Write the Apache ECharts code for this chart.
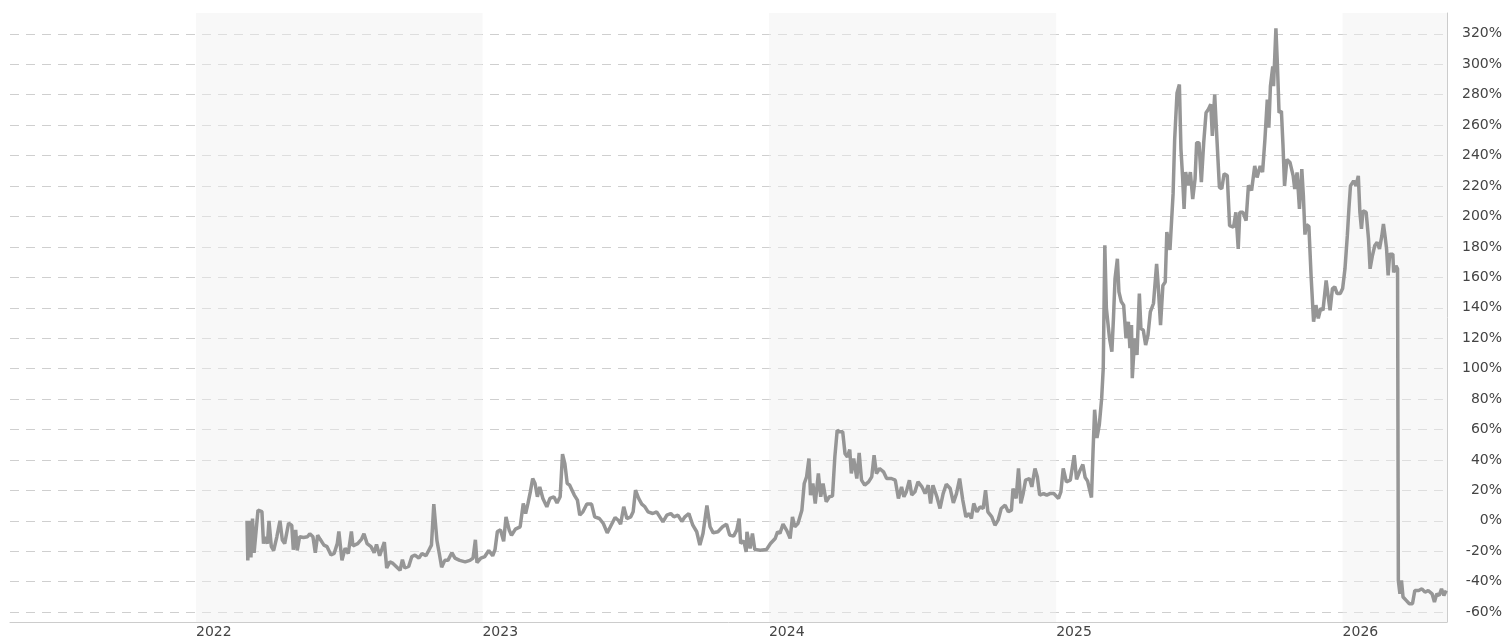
<!DOCTYPE html>
<html>
<head>
<meta charset="utf-8">
<title>Performance</title>
<script src="https://cdn.jsdelivr.net/npm/echarts@6/dist/echarts.min.js"></script>
<style>
  html, body { margin: 0; padding: 0; background: #fff; }
  #chart { width: 1507px; height: 639px; }
</style>
</head>
<body>
<div id="chart"></div>
<script>
  // percentage change
  const pts2022 = [
    ['2022-03-07', 0], ['2022-03-08', -26], ['2022-03-10', 0], ['2022-03-12', -24], ['2022-03-14', 1.5], ['2022-03-16', -21], ['2022-03-21', 7], ['2022-03-26', 6], ['2022-03-28', -15], ['2022-03-30', -10.5],
    ['2022-04-02', -15], ['2022-04-04', 0], ['2022-04-07', -17], ['2022-04-10', -19.5], ['2022-04-14', -10.5], ['2022-04-18', 0], ['2022-04-21', -12.7], ['2022-04-24', -15], ['2022-04-29', -1.5],
    ['2022-05-03', -3], ['2022-05-05', -19], ['2022-05-08', -6], ['2022-05-10', -19.5], ['2022-05-13', -10.5], ['2022-05-18', -11], ['2022-05-23', -10.5], ['2022-05-26', -8.5], ['2022-05-30', -10.5],
    ['2022-06-02', -21], ['2022-06-05', -9.5], ['2022-06-08', -12], ['2022-06-13', -16], ['2022-06-17', -17], ['2022-06-22', -22.5], ['2022-06-26', -21.5], ['2022-06-30', -15],
    ['2022-07-02', -7], ['2022-07-06', -26], ['2022-07-10', -18], ['2022-07-14', -21.5], ['2022-07-18', -7], ['2022-07-20', -16.5], ['2022-07-26', -15], ['2022-07-31', -12],
    ['2022-08-03', -8.5], ['2022-08-07', -15], ['2022-08-12', -17], ['2022-08-16', -21], ['2022-08-19', -15.5], ['2022-08-23', -23], ['2022-08-29', -14],
    ['2022-09-01', -31], ['2022-09-05', -27], ['2022-09-09', -28], ['2022-09-14', -30.5], ['2022-09-18', -32.5], ['2022-09-21', -25.5], ['2022-09-24', -31], ['2022-09-29', -30],
    ['2022-10-03', -23.5], ['2022-10-07', -22.5], ['2022-10-12', -24.5], ['2022-10-16', -21.5], ['2022-10-21', -23], ['2022-10-25', -19], ['2022-10-28', -16], ['2022-10-31', 11],
    ['2022-11-04', -13], ['2022-11-07', -21.5], ['2022-11-10', -30.5], ['2022-11-14', -26], ['2022-11-18', -26], ['2022-11-23', -21], ['2022-11-27', -24.5],
    ['2022-12-03', -26], ['2022-12-10', -27], ['2022-12-16', -26], ['2022-12-20', -24.5], ['2022-12-23', -12.5], ['2022-12-25', -27.5], ['2022-12-30', -24.5]
  ]
  const pts2023 = [
    ['2023-01-04', -23.5], ['2023-01-09', -19.5], ['2023-01-14', -23], ['2023-01-17', -19], ['2023-01-20', -7], ['2023-01-24', -6], ['2023-01-28', -13.5], ['2023-01-31', 2.5],
    ['2023-02-04', -6], ['2023-02-07', -9.5], ['2023-02-12', -5.5], ['2023-02-18', -4], ['2023-02-22', 11.4], ['2023-02-25', 4.8], ['2023-02-28', 11.4],
    ['2023-03-03', 19], ['2023-03-06', 27.8], ['2023-03-09', 24.5], ['2023-03-12', 15.8], ['2023-03-15', 22.3], ['2023-03-19', 14.7], ['2023-03-24', 9.2], ['2023-03-28', 14.7],
    ['2023-04-02', 15.8], ['2023-04-06', 11.8], ['2023-04-10', 15.8], ['2023-04-13', 43.8], ['2023-04-16', 37.6], ['2023-04-19', 24.5], ['2023-04-22', 23.6], ['2023-04-28', 16.9],
    ['2023-05-02', 13.6], ['2023-05-05', 3.7], ['2023-05-09', 5.9], ['2023-05-14', 11], ['2023-05-20', 11], ['2023-05-24', 2.6], ['2023-05-30', 1.5],
    ['2023-06-04', -1.8], ['2023-06-09', -7.9], ['2023-06-13', -3.9], ['2023-06-19', 2.2], ['2023-06-23', 0.4], ['2023-06-26', -2.2], ['2023-06-30', 9.2],
    ['2023-07-04', 1.5], ['2023-07-09', 2.6], ['2023-07-12', 5.9], ['2023-07-15', 20.1], ['2023-07-19', 14.7], ['2023-07-23', 11], ['2023-07-27', 9.2], ['2023-07-31', 5.9],
    ['2023-08-06', 4.8], ['2023-08-11', 5.9], ['2023-08-15', 2.6], ['2023-08-19', -0.7], ['2023-08-24', 3.7], ['2023-08-29', 4.8],
    ['2023-09-02', 2.6], ['2023-09-07', 3.7], ['2023-09-12', -0.4], ['2023-09-16', 2.6], ['2023-09-21', 4.8], ['2023-09-26', -2.9],
    ['2023-10-01', -7.2], ['2023-10-05', -16], ['2023-10-09', -8.3], ['2023-10-14', 10.1], ['2023-10-18', -3.9], ['2023-10-22', -7.9], ['2023-10-28', -7.2],
    ['2023-11-03', -3.9], ['2023-11-08', -2.2], ['2023-11-12', -9.4], ['2023-11-17', -10.1], ['2023-11-21', -6.1], ['2023-11-24', 1.5], ['2023-11-26', -14.9], ['2023-11-30', -13.1],
    ['2023-12-03', -20.4], ['2023-12-04', -7.2], ['2023-12-08', -18.2], ['2023-12-11', -8.3], ['2023-12-14', -18.8], ['2023-12-21', -19.3], ['2023-12-29', -18.8]
  ]
  const pts2024 = [
    ['2024-01-03', -14.9], ['2024-01-09', -11.6], ['2024-01-12', -7.2], ['2024-01-15', -8.3], ['2024-01-19', -2.2], ['2024-01-24', -6.6], ['2024-01-28', -11.6], ['2024-01-31', 2.6],
    ['2024-02-03', -3.9], ['2024-02-07', -1.8], ['2024-02-12', 7], ['2024-02-15', 24.5], ['2024-02-18', 28.9], ['2024-02-21', 40.9], ['2024-02-23', 16.9], ['2024-02-26', 24.5], ['2024-02-29', 11.4],
    ['2024-03-04', 31.1], ['2024-03-07', 15.8], ['2024-03-10', 24.5], ['2024-03-14', 12.5], ['2024-03-18', 15.8], ['2024-03-22', 16.2], ['2024-03-25', 42], ['2024-03-28', 59.6], ['2024-03-31', 58.5],
    ['2024-04-04', 58.5], ['2024-04-07', 44.1], ['2024-04-10', 42], ['2024-04-13', 46.8], ['2024-04-15', 31.1], ['2024-04-18', 40.9], ['2024-04-22', 27.8], ['2024-04-25', 44.6], ['2024-04-28', 26.7],
    ['2024-05-02', 23.4], ['2024-05-07', 25.6], ['2024-05-11', 28.9], ['2024-05-14', 43.1], ['2024-05-17', 31.1], ['2024-05-21', 34.4], ['2024-05-26', 32.2], ['2024-05-30', 27.8],
    ['2024-06-05', 27.8], ['2024-06-10', 26.7], ['2024-06-14', 14.7], ['2024-06-18', 22.3], ['2024-06-21', 15.8], ['2024-06-24', 19], ['2024-06-28', 26.7],
    ['2024-07-01', 16.9], ['2024-07-05', 19], ['2024-07-09', 25.6], ['2024-07-14', 22.3], ['2024-07-18', 17.9], ['2024-07-22', 23.4], ['2024-07-25', 11.4], ['2024-07-28', 23.4],
    ['2024-08-02', 15.8], ['2024-08-06', 8.1], ['2024-08-10', 17.9], ['2024-08-14', 24], ['2024-08-19', 21.2], ['2024-08-23', 11.8], ['2024-08-27', 17.9], ['2024-08-31', 27.8],
    ['2024-09-04', 13.6], ['2024-09-08', 2.6], ['2024-09-12', 4.8], ['2024-09-15', 1.5], ['2024-09-18', 11.4], ['2024-09-22', 5.9], ['2024-09-26', 9.2], ['2024-09-30', 8.1],
    ['2024-10-03', 20.1], ['2024-10-06', 5.9], ['2024-10-11', 2.6], ['2024-10-15', -2.9], ['2024-10-19', 0.4], ['2024-10-23', 8.1], ['2024-10-28', 10.3],
    ['2024-11-01', 5.9], ['2024-11-05', 7], ['2024-11-07', 21.2], ['2024-11-11', 14.7], ['2024-11-14', 34.4], ['2024-11-17', 11.4], ['2024-11-20', 17.9], ['2024-11-23', 26.7], ['2024-11-28', 27.8],
    ['2024-12-01', 22.3], ['2024-12-05', 34.4], ['2024-12-08', 28.9], ['2024-12-11', 16.9], ['2024-12-16', 17.9], ['2024-12-20', 16.9], ['2024-12-24', 17.9], ['2024-12-29', 17.9]
  ]
  const pts2025 = [
    ['2025-01-04', 14.7], ['2025-01-07', 19], ['2025-01-10', 34.4], ['2025-01-14', 25.6], ['2025-01-19', 26.7], ['2025-01-24', 43.1], ['2025-01-27', 27.3], ['2025-01-31', 32.7],
    ['2025-02-04', 37], ['2025-02-07', 28.4], ['2025-02-10', 26.2], ['2025-02-13', 19.6], ['2025-02-15', 15.3], ['2025-02-17', 45.8], ['2025-02-19', 73], ['2025-02-22', 54.5], ['2025-02-25', 63.2], ['2025-02-28', 80.6],
    ['2025-03-02', 100.3], ['2025-03-04', 181], ['2025-03-06', 139.5], ['2025-03-10', 119.9], ['2025-03-13', 111.2], ['2025-03-15', 133], ['2025-03-17', 159.1], ['2025-03-20', 172.2], ['2025-03-22', 150.4], ['2025-03-25', 143.9], ['2025-03-28', 141.7], ['2025-03-31', 119.9],
    ['2025-04-03', 130.8], ['2025-04-05', 113.4], ['2025-04-07', 128.6], ['2025-04-08', 93.7], ['2025-04-11', 119.9], ['2025-04-14', 109], ['2025-04-17', 149.3], ['2025-04-19', 126.4], ['2025-04-22', 125.3], ['2025-04-25', 115.5], ['2025-04-28', 122.1],
    ['2025-05-01', 137.3], ['2025-05-05', 142.8], ['2025-05-09', 168.9], ['2025-05-11', 154.7], ['2025-05-14', 128.6], ['2025-05-17', 154.7], ['2025-05-20', 156.9], ['2025-05-22', 189.7], ['2025-05-26', 178], ['2025-05-30', 215],
    ['2025-06-01', 250.7], ['2025-06-04', 281.2], ['2025-06-07', 286.7], ['2025-06-09', 244.3], ['2025-06-11', 226.9], ['2025-06-13', 204.9], ['2025-06-15', 229.1], ['2025-06-18', 220.4], ['2025-06-21', 229.1], ['2025-06-24', 211.4], ['2025-06-27', 224.7], ['2025-06-29', 248.5],
    ['2025-07-02', 248.5], ['2025-07-05', 222.5], ['2025-07-08', 248.5], ['2025-07-11', 268.2], ['2025-07-14', 270.4], ['2025-07-17', 273.7], ['2025-07-19', 252.9], ['2025-07-22', 280.1], ['2025-07-24', 259.4], ['2025-07-28', 219.2], ['2025-07-31', 218.2],
    ['2025-08-03', 228], ['2025-08-07', 226.9], ['2025-08-10', 194], ['2025-08-15', 192.9], ['2025-08-18', 202.7], ['2025-08-21', 178.7], ['2025-08-23', 202.7], ['2025-08-27', 202.7], ['2025-08-31', 197.3],
    ['2025-09-03', 220.4], ['2025-09-07', 217.1], ['2025-09-11', 233.2], ['2025-09-14', 225.6], ['2025-09-18', 233.2], ['2025-09-21', 229.1], ['2025-09-24', 250.7], ['2025-09-27', 276.8], ['2025-09-29', 258.3],
    ['2025-10-01', 285.6], ['2025-10-04', 298.6], ['2025-10-05', 285.6], ['2025-10-08', 323.7], ['2025-10-10', 298.6], ['2025-10-12', 268.2], ['2025-10-15', 269.3], ['2025-10-17', 247], ['2025-10-19', 220], ['2025-10-22', 237.5], ['2025-10-26', 235.4], ['2025-10-30', 226.7],
    ['2025-11-01', 218], ['2025-11-04', 228.9], ['2025-11-07', 204.9], ['2025-11-10', 231.1], ['2025-11-12', 213.6], ['2025-11-14', 188.1], ['2025-11-16', 194.6], ['2025-11-19', 193.5], ['2025-11-22', 159.1], ['2025-11-25', 130.8], ['2025-11-28', 141.7],
    ['2025-12-01', 133], ['2025-12-04', 139.5], ['2025-12-07', 138.4], ['2025-12-11', 158], ['2025-12-14', 146], ['2025-12-16', 138.4], ['2025-12-19', 152.6], ['2025-12-22', 153.7], ['2025-12-25', 149.3], ['2025-12-29', 149.3]
  ]
  const pts2026 = [
    ['2026-01-01', 152.6], ['2026-01-04', 165.6], ['2026-01-07', 187.4], ['2026-01-09', 204.9], ['2026-01-11', 220.1], ['2026-01-15', 223.4], ['2026-01-18', 220.1], ['2026-01-21', 226.7], ['2026-01-23', 202.7], ['2026-01-25', 191.8], ['2026-01-27', 203.8], ['2026-01-31', 202.7],
    ['2026-02-03', 185.3], ['2026-02-05', 165.6], ['2026-02-08', 174.3], ['2026-02-11', 180.9], ['2026-02-14', 183], ['2026-02-17', 178.7], ['2026-02-20', 187.4], ['2026-02-22', 195], ['2026-02-24', 187.4], ['2026-02-26', 178.7], ['2026-02-28', 161.3],
    ['2026-03-02', 175.2], ['2026-03-06', 175.2], ['2026-03-07', 163.2], ['2026-03-10', 167.6], ['2026-03-12', 165.6], ['2026-03-13', -39.2], ['2026-03-15', -48], ['2026-03-17', -39.2], ['2026-03-19', -50.1], ['2026-03-23', -52.3], ['2026-03-27', -54.5], ['2026-03-31', -54.5],
    ['2026-04-03', -45.8], ['2026-04-08', -45.8], ['2026-04-12', -44.7], ['2026-04-16', -46.9], ['2026-04-20', -45.8], ['2026-04-25', -48], ['2026-04-28', -53.4],
    ['2026-05-01', -48], ['2026-05-04', -49.1], ['2026-05-07', -44.7], ['2026-05-10', -49.1], ['2026-05-13', -45.8]
  ]

  const yearTicks = ['2022-01-01', '2023-01-01', '2024-01-01', '2025-01-01', '2026-01-01']
  const pctTicks = [-60, -40, -20, 0, 20, 40, 60, 80, 100, 120, 140, 160, 180, 200, 220, 240, 260, 280, 300, 320]
  // shaded years
  const bandYears = [['2022-01-01', '2023-01-01'], ['2024-01-01', '2025-01-01'], ['2026-01-01', '2026-05-14']]
  const xRange = ['2021-05-09', '2026-05-14']

  const labelFont = {
    color: '#444',
    fontFamily: 'DejaVu Sans',
    fontSize: 14
  }

  // dates -> utc ms so a plain value axis can place them
  function ms(d) {
    return Date.parse(d + 'T00:00:00Z')
  }

  let allPts = pts2022.concat(pts2023, pts2024, pts2025, pts2026).map(function (p) {
    return [ms(p[0]), p[1]]
  })

  let chart = echarts.init(document.getElementById('chart'))
  let option = {
    animation: false,
    backgroundColor: '#fff',
    grid: {
      left: 10,
      right: 60,
      top: 13,
      bottom: 14
    },
    xAxis: {
      type: 'value',
      min: ms(xRange[0]),
      max: ms(xRange[1]),
      axisLine: {
        onZero: false,
        lineStyle: {color: '#cccccc'}
      },
      axisTick: {show: false, customValues: yearTicks.map(ms)},
      splitLine: {show: false},
      axisLabel: Object.assign({
        customValues: yearTicks.map(ms),
        align: 'left',
        margin: 3,
        formatter: function (v) {
          return String(new Date(v).getUTCFullYear())
        }
      }, labelFont)
    },
    yAxis: {
      type: 'value',
      position: 'right',
      min: -66.5,
      max: 333.7,
      axisLine: {
        show: true,
        onZero: false,
        lineStyle: {color: '#cccccc'}
      },
      axisTick: {show: false, customValues: pctTicks},
      axisLabel: Object.assign({
        customValues: pctTicks,
        align: 'right',
        margin: 55,
        padding: [4, 0, 0, 0],
        formatter: '{value}%'
      }, labelFont),
      splitLine: {
        show: true,
        lineStyle: {
          color: '#cfcfcf',
          width: 1,
          type: [9, 7]
        }
      }
    },
    series: [
      {
        type: 'line',
        data: allPts,
        showSymbol: false,
        lineStyle: {color: '#969696', width: 3.5},
        itemStyle: {color: '#969696'},
        markArea: {
          silent: true,
          itemStyle: {color: 'rgba(240,240,240,0.45)'},
          data: bandYears.map(function (b) {
            return [{xAxis: ms(b[0])}, {xAxis: ms(b[1])}]
          })
        }
      }
    ]
  }
  chart.setOption(option)
</script>
</body>
</html>
